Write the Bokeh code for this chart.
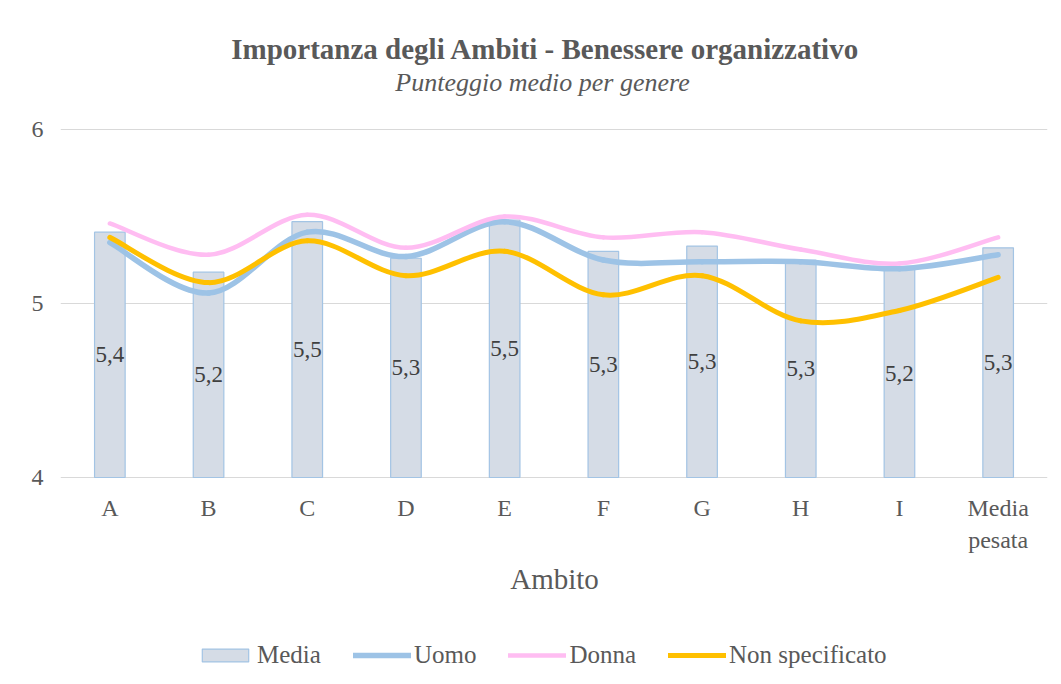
from bokeh.plotting import figure
from bokeh.models import (Range1d, FixedTicker, Label, Legend, LegendItem,
                          ColumnDataSource)
from bokeh.core.properties import value
from bokeh.embed import file_html
from bokeh.resources import INLINE

# ---- data ----
categories = ["A", "B", "C", "D", "E", "F", "G", "H", "I", "Media\npesata"]
media = [5.41, 5.18, 5.47, 5.26, 5.48, 5.30, 5.33, 5.25, 5.20, 5.32]
media_labels = ["5,4", "5,2", "5,5", "5,3", "5,5", "5,3", "5,3", "5,3", "5,2", "5,3"]
uomo = [5.35, 5.06, 5.41, 5.27, 5.47, 5.25, 5.24, 5.24, 5.20, 5.28]
donna = [5.46, 5.28, 5.51, 5.32, 5.50, 5.38, 5.41, 5.31, 5.23, 5.38]
non_spec = [5.38, 5.12, 5.36, 5.16, 5.30, 5.05, 5.16, 4.90, 4.96, 5.15]
y_ticks = [4, 5, 6]

FONT = "Liberation Serif"
TXT = "#595959"

# ---- layout (pixels) ----
W, H = 1053, 676
PL, PR = 60, 1047          # plot area left/right
PT, PB = 129, 477          # pixel rows of y=6 and y=4
YMIN, YMAX = 4, 6
n = len(categories)
xs = list(range(1, n + 1))
ux = (PR - PL) / n
uy = (PB - PT) / (YMAX - YMIN)

def dx(px):
    return 0.5 + (px - PL) / ux

def dy(py):
    return YMAX - (py - PT) / uy

p = figure(width=W, height=H, output_backend="svg", toolbar_location=None,
           x_range=Range1d(0.5, n + 0.5), y_range=Range1d(dy(H), dy(0)),
           min_border_left=PL, min_border_right=W - PR, min_border_top=0,
           min_border_bottom=0, x_axis_type=None)
p.outline_line_color = None
p.background_fill_color = "white"
p.border_fill_color = "white"

# y axis
p.yaxis.ticker = FixedTicker(ticks=y_ticks)
p.yaxis.axis_line_color = None
p.yaxis.major_tick_line_color = None
p.yaxis.minor_tick_line_color = None
p.yaxis.major_label_text_font = FONT
p.yaxis.major_label_text_font_size = "24px"
p.yaxis.major_label_text_color = TXT
p.yaxis.major_label_standoff = 11
p.xgrid.grid_line_color = None
p.ygrid.grid_line_color = "#d9d9d9"
p.ygrid.grid_line_width = 1

# x tick labels (category names) and axis title
p.text(x=xs, y=[dy(PB + 17)] * n, text=categories, text_align="center",
       text_baseline="top", text_font=value(FONT), text_font_size="24px",
       text_color=TXT, text_line_height=1.25)
p.add_layout(Label(x=dx(554), y=dy(578), text="Ambito", text_align="center",
                   text_baseline="middle", text_font=FONT,
                   text_font_size="29px", text_color=TXT))

# bars
src = ColumnDataSource(dict(x=xs, top=media, mid=[(YMIN + m) / 2 for m in media],
                            lab=media_labels))
bars = p.vbar(x="x", top="top", bottom=YMIN, width=0.31, source=src,
              fill_color="#d5dce6", line_color="#a3c4e4", line_width=1.2)
p.text(x="x", y="mid", text="lab", source=src, text_align="center",
       text_baseline="middle", text_font=value(FONT), text_font_size="23px",
       text_color="#404040")

def smooth(ax, vals):
    m = len(vals)
    P = list(zip(ax, vals))
    seg = dict(x0=[], y0=[], x1=[], y1=[], cx0=[], cy0=[], cx1=[], cy1=[])
    for i in range(m - 1):
        p0 = P[i - 1] if i > 0 else P[i]
        p1 = P[i]
        p2 = P[i + 1]
        p3 = P[i + 2] if i + 2 < m else P[i + 1]
        seg["x0"].append(p1[0]); seg["y0"].append(p1[1])
        seg["x1"].append(p2[0]); seg["y1"].append(p2[1])
        seg["cx0"].append(p1[0] + (p2[0] - p0[0]) / 6)
        seg["cy0"].append(p1[1] + (p2[1] - p0[1]) / 6)
        seg["cx1"].append(p2[0] - (p3[0] - p1[0]) / 6)
        seg["cy1"].append(p2[1] - (p3[1] - p1[1]) / 6)
    return ColumnDataSource(seg)

series = [("Uomo", uomo, "#9dc3e6", 5.5), ("Donna", donna, "#ffbdf2", 4.5),
          ("Non specificato", non_spec, "#ffc000", 5)]
items = [LegendItem(label="Media", renderers=[bars])]
for name, vals, col, lw in series:
    r = p.bezier(x0="x0", y0="y0", x1="x1", y1="y1", cx0="cx0", cy0="cy0",
                 cx1="cx1", cy1="cy1", source=smooth(xs, vals), line_color=col,
                 line_width=lw, line_cap="round")
    items.append(LegendItem(label=name, renderers=[r]))

legend = Legend(items=items, orientation="horizontal", location=(196 - PL, 7),
                label_text_font=FONT, label_text_font_size="25px",
                label_text_color=TXT, glyph_width=58, glyph_height=16,
                label_height=26, label_standoff=3, spacing=32, padding=0,
                margin=0, border_line_color=None, background_fill_alpha=0)
p.add_layout(legend, "center")

# title / subtitle
p.add_layout(Label(x=dx(545), y=dy(48),
                   text="Importanza degli Ambiti - Benessere organizzativo",
                   text_align="center", text_baseline="middle", text_font=FONT,
                   text_font_size="29px", text_font_style="bold", text_color=TXT))
p.add_layout(Label(x=dx(542), y=dy(82), text="Punteggio medio per genere",
                   text_align="center", text_baseline="middle", text_font=FONT,
                   text_font_size="26px", text_font_style="italic", text_color=TXT))

open("out.html", "w").write(file_html(p, INLINE))
